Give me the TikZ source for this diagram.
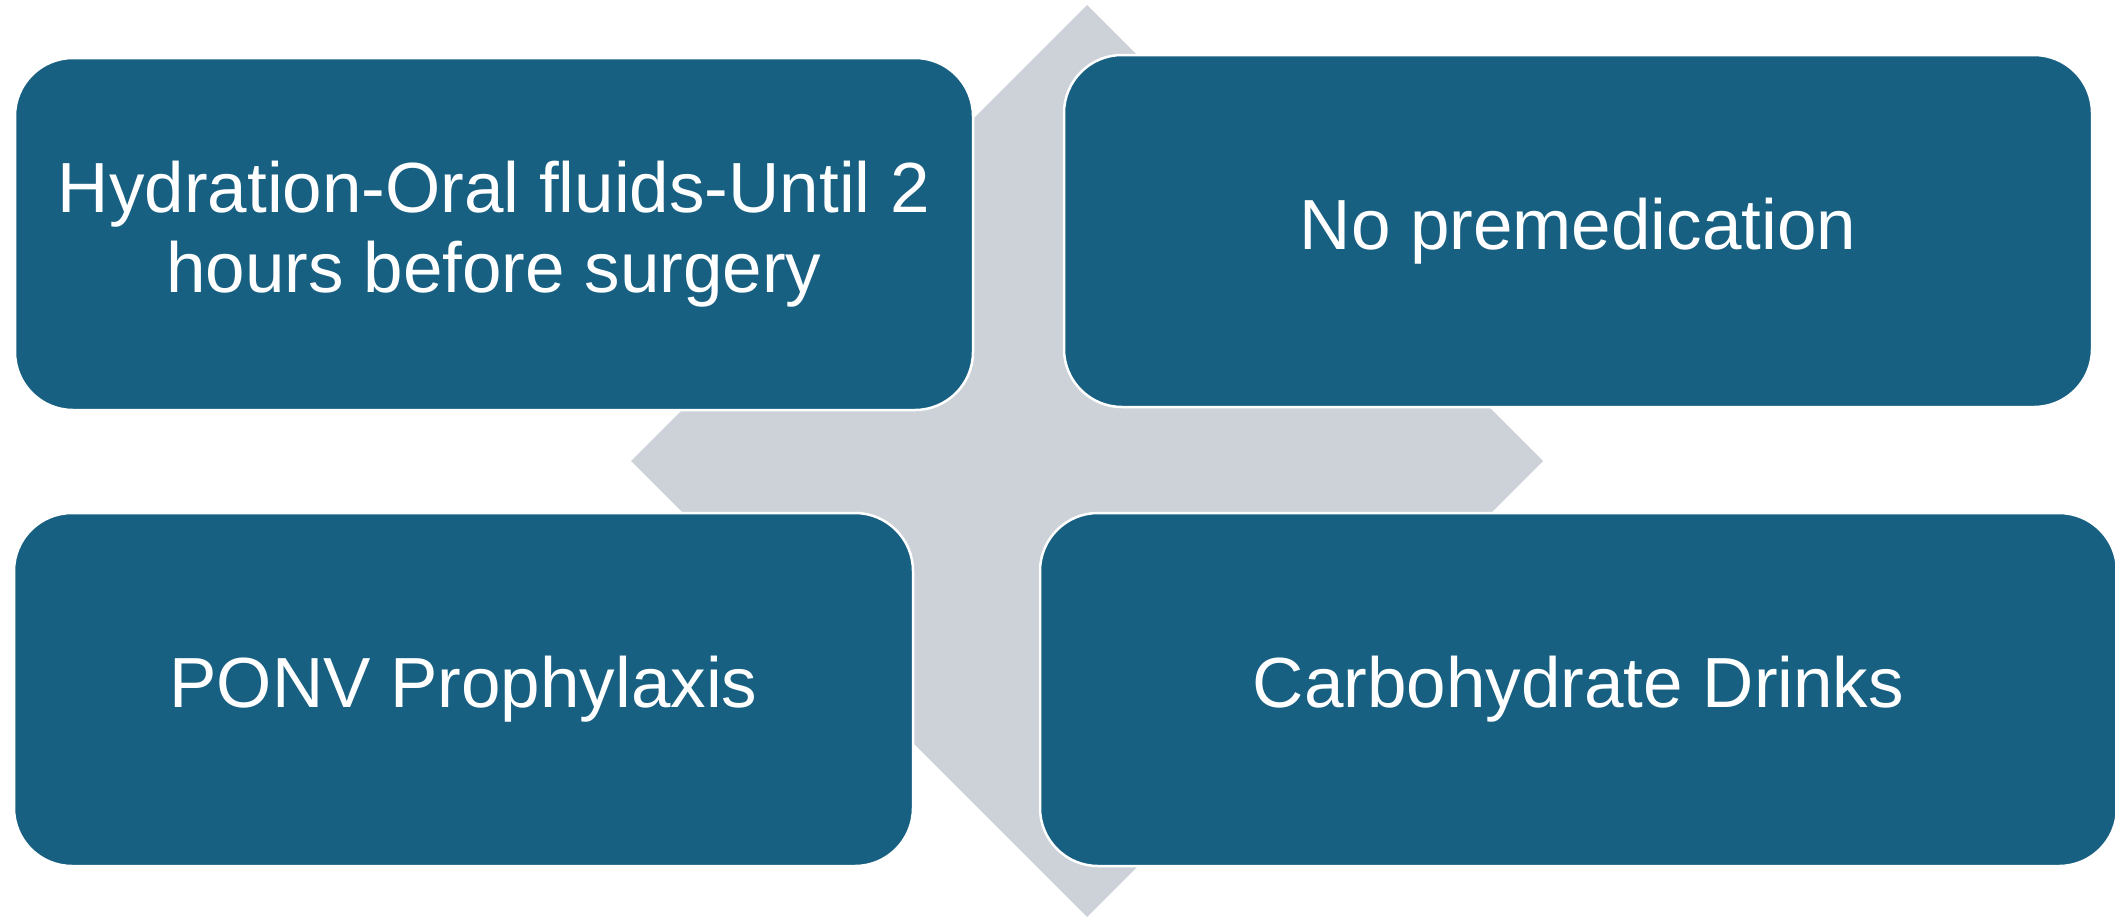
\documentclass[tikz,border=0pt]{standalone}
\usepackage{fontspec}
\setmainfont{Liberation Sans}
\definecolor{boxblue}{RGB}{24,96,130}
\definecolor{hubgray}{RGB}{205,210,217}
\begin{document}
\begin{tikzpicture}[x=1pt,y=-1pt,
  card/.style={rectangle, fill=boxblue, draw=white, line width=2.5pt,
    rounded corners=58pt, inner sep=0pt, text=white, align=center,
    font=\fontsize{71}{80}\selectfont},
]
\useasboundingbox (0,0) rectangle (2115,916);
\fill[hubgray] (1087,5) -- (1543,461) -- (1087,917) -- (631,461) -- cycle;
\node[card, minimum width=958pt, minimum height=352pt] (hyd) at (494,234)
  {Hydration-Oral fluids-Until 2\\hours before surgery};
\node[card, minimum width=1028pt, minimum height=352pt] (prem) at (1578,231)
  {No premedication};
\node[card, minimum width=899pt, minimum height=353pt] (ponv) at (463.5,689.5)
  {PONV Prophylaxis};
\node[card, minimum width=1077pt, minimum height=353pt] (carb) at (1578.5,689.5)
  {Carbohydrate Drinks};
\end{tikzpicture}
\end{document}
